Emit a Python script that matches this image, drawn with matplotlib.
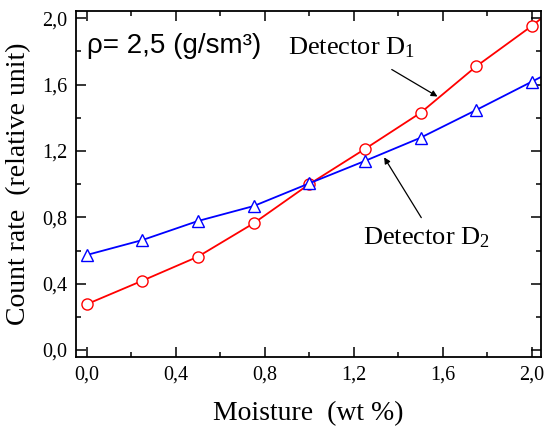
import matplotlib
matplotlib.use('Agg')
import matplotlib.pyplot as plt
from matplotlib.ticker import MultipleLocator, FuncFormatter

plt.rcParams['font.family'] = 'Liberation Serif'
plt.rcParams['mathtext.fontset'] = 'custom'
plt.rcParams['mathtext.rm'] = 'Liberation Serif'
plt.rcParams['mathtext.it'] = 'Liberation Serif:italic'

# moisture, wt % (last point lies past the axis edge, clipped)
moisture = [0.0, 0.25, 0.5, 0.75, 1.0, 1.25, 1.5, 1.75, 2.0, 2.25]
# count rate, relative unit
det1 = [0.276, 0.418, 0.563, 0.764, 1.0, 1.212, 1.43, 1.71, 1.954, 2.22]
det2 = [0.573, 0.663, 0.778, 0.868, 1.005, 1.14, 1.28, 1.447, 1.618, 1.79]

fig = plt.figure(figsize=(5.45, 4.28), dpi=100)
ax = fig.add_axes([76 / 545, 1 - 357 / 428, (540.7 - 76) / 545, (357 - 10.7) / 428])

ax.plot(moisture, det1, color='red', lw=1.3, marker='o', ms=8,
        mfc='white', mec='red', mew=1.0)
ax.plot(moisture, det2, color='blue', lw=1.3, marker='^', ms=8.5,
        mfc='white', mec='blue', mew=1.0)

ax.set_xlim(-0.048, 2.04)
ax.set_ylim(-0.042, 2.046)

comma = FuncFormatter(lambda v, p: ('%.1f' % v).replace('.', ','))
for axis in (ax.xaxis, ax.yaxis):
    axis.set_major_locator(MultipleLocator(0.4))
    axis.set_minor_locator(MultipleLocator(0.2))
    axis.set_major_formatter(comma)
ax.tick_params(which='both', direction='in', top=True, right=True, width=1.1)
ax.tick_params(which='major', length=7, labelsize=14.5, pad=6)
ax.tick_params(which='minor', length=3.5)
for s in ax.spines.values():
    s.set_linewidth(1.3)

ax.set_xlabel('Moisture  (wt %)', fontsize=20, labelpad=12)
ax.set_ylabel('Count rate  (relative unit)', fontsize=20, labelpad=8)

ax.text(0.0, 1.835, 'ρ= 2,5 (g/sm³)', fontsize=20,
        family='Liberation Sans', va='center')
ax.text(0.904, 1.82, 'Detector D$_1$', fontsize=19, va='center')
ax.text(1.24, 0.68, 'Detector D$_2$', fontsize=19, va='center')

ax.annotate('', xy=(1.587, 1.52), xytext=(1.36, 1.70),
            arrowprops=dict(arrowstyle='-|>', color='black', lw=0.9,
                            mutation_scale=9))
ax.annotate('', xy=(1.33, 1.176), xytext=(1.51, 0.784),
            arrowprops=dict(arrowstyle='-|>', color='black', lw=0.9,
                            mutation_scale=9))

fig.savefig('out.png', dpi=100)
